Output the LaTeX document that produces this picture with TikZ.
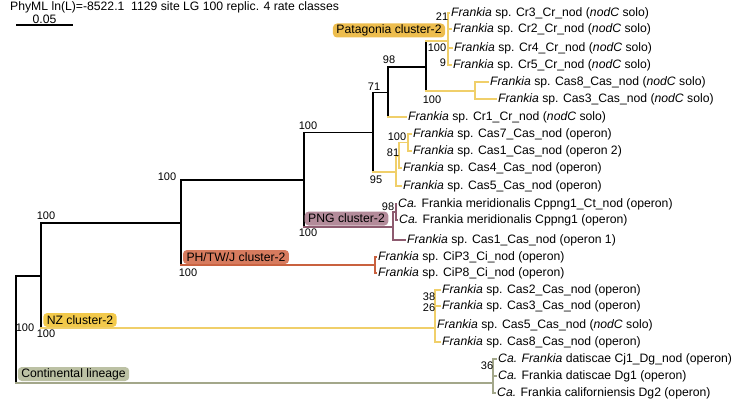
\documentclass[tikz,border=0pt]{standalone}
\usepackage{fontspec}
\setmainfont{Liberation Sans}
\usetikzlibrary{positioning}

\definecolor{patline}{HTML}{F0CF6A}
\definecolor{patbox}{HTML}{EDBD4E}
\definecolor{nzbox}{HTML}{F2C94B}
\definecolor{pngline}{HTML}{8E5B70}
\definecolor{pngbox}{HTML}{B38B9A}
\definecolor{phline}{HTML}{C9613F}
\definecolor{phbox}{HTML}{D77B5E}
\definecolor{conline}{HTML}{A3A78A}
\definecolor{conbox}{HTML}{BCC1A4}

\begin{document}
\begin{tikzpicture}[
    x=1pt, y=-1pt,
    every node/.style = {inner sep=0pt, font=\fontsize{12.2}{14}\selectfont},
    taxon/.style = {anchor=west, inner xsep=2pt},
    supp/.style = {font=\fontsize{11}{12}\selectfont},
    clade/.style = {rounded corners=4pt, inner xsep=3.5pt, minimum height=14pt},
    tree/.style = {line width=1.8pt, line cap=rect},
    pat/.style = {tree, draw=patline},
    png/.style = {tree, draw=pngline},
    ph/.style = {tree, draw=phline},
    con/.style = {tree, draw=conline}
                    ]
\useasboundingbox (0,0) rectangle (735,404);

% header and scale bar
\node (title) [anchor=west] at (10,7) {PhyML ln(L)=-8522.1\ \ 1129 site LG 100 replic. 4 rate classes};
\coordinate (sbA) at (16,25);
\coordinate (sbB) at (73,25);
\coordinate (sbM) at (44.5,25);
\draw[line width=2.5pt] (sbA) -- (sbB);
\node (sbtext) [above=1pt of sbM] {0.05};

% internal nodes
\coordinate (root) at (16,329.5);
\coordinate (nA) at (41,276);
\coordinate (nB) at (181,223);
\coordinate (nD) at (304,180);
\coordinate (nE) at (373,132.5);
\coordinate (nF) at (388,92.5);
\coordinate (nH) at (426,67);
\coordinate (nCr) at (448,41);
\coordinate (nCas) at (475,91);
\coordinate (nG) at (396,172);
\coordinate (n81) at (399,156);
\coordinate (n100) at (408,142.5);
\coordinate (nPNG) at (393,227);
\coordinate (n98) at (396,212);
\coordinate (nPH) at (375,265);
\coordinate (nNZ) at (435,328);
\coordinate (nCon) at (493,383);

% taxa
\node (cr3) [taxon] at (449,13) {\textit{Frankia} sp. Cr3\_Cr\_nod (\textit{nodC} solo)};
\node (cr2) [taxon] at (451,29) {\textit{Frankia} sp. Cr2\_Cr\_nod (\textit{nodC} solo)};
\node (cr4) [taxon] at (452,48) {\textit{Frankia} sp. Cr4\_Cr\_nod (\textit{nodC} solo)};
\node (cr5) [taxon] at (451,65) {\textit{Frankia} sp. Cr5\_Cr\_nod (\textit{nodC} solo)};
\node (cas8s) [taxon] at (488,82) {\textit{Frankia} sp. Cas8\_Cas\_nod (\textit{nodC} solo)};
\node (cas3s) [taxon] at (496,99) {\textit{Frankia} sp. Cas3\_Cas\_nod (\textit{nodC} solo)};
\node (cr1) [taxon] at (406,117) {\textit{Frankia} sp. Cr1\_Cr\_nod (\textit{nodC} solo)};
\node (cas7) [taxon] at (411,134) {\textit{Frankia} sp. Cas7\_Cas\_nod (operon)};
\node (cas1b) [taxon] at (411,151) {\textit{Frankia} sp. Cas1\_Cas\_nod (operon 2)};
\node (cas4) [taxon] at (401,168) {\textit{Frankia} sp. Cas4\_Cas\_nod (operon)};
\node (cas5) [taxon] at (401,186) {\textit{Frankia} sp. Cas5\_Cas\_nod (operon)};
\node (cpA) [taxon] at (396,204) {\textit{Ca.} Frankia meridionalis Cppng1\_Ct\_nod (operon)};
\node (cpB) [taxon] at (397,220) {\textit{Ca.} Frankia meridionalis Cppng1 (operon)};
\node (cas1a) [taxon] at (405,240) {\textit{Frankia} sp. Cas1\_Cas\_nod (operon 1)};
\node (cip3) [taxon] at (376,257) {\textit{Frankia} sp. CiP3\_Ci\_nod (operon)};
\node (cip8) [taxon] at (376,273) {\textit{Frankia} sp. CiP8\_Ci\_nod (operon)};
\node (nzcas2) [taxon] at (440,290) {\textit{Frankia} sp. Cas2\_Cas\_nod (operon)};
\node (nzcas3) [taxon] at (440,306) {\textit{Frankia} sp. Cas3\_Cas\_nod (operon)};
\node (nzcas5) [taxon] at (435,325) {\textit{Frankia} sp. Cas5\_Cas\_nod (\textit{nodC} solo)};
\node (nzcas8) [taxon] at (440,342) {\textit{Frankia} sp. Cas8\_Cas\_nod (operon)};
\node (cj1) [taxon] at (496,359) {\textit{Ca. Frankia} datiscae Cj1\_Dg\_nod (operon)};
\node (dg1) [taxon] at (496,376) {\textit{Ca.} Frankia datiscae Dg1 (operon)};
\node (dg2) [taxon] at (495,393) {\textit{Ca.} Frankia californiensis Dg2 (operon)};

% backbone
\draw[tree] (root |- nA) -- (root |- nCon);
\draw[tree] (root |- nA) -- (nA);
\draw[con] (root |- nCon) -- (nCon);
\draw[tree] (nA |- nB) -- (nA |- nNZ);
\draw[tree] (nA |- nB) -- (nB);
\draw[pat] (nA |- nNZ) -- (nNZ);
\draw[tree] (nB |- nD) -- (nB |- nPH);
\draw[tree] (nB |- nD) -- (nD);
\draw[ph] (nB |- nPH) -- (nPH);
\draw[tree] (nD |- nE) -- (nD |- nPNG);
\draw[tree] (nD |- nE) -- (nE);
\draw[png] (nD |- nPNG) -- (nPNG);
\draw[tree] (nE |- nF) -- (nE |- nG);
\draw[tree] (nE |- nF) -- (nF);
\draw[pat] (nE |- nG) -- (nG);
\draw[tree] (nF |- nH) -- (nF |- cr1);
\draw[tree] (nF |- nH) -- (nH);
\draw[pat] (nF |- cr1) -- (cr1.west);
\draw[tree] (nH |- nCr) -- (nH |- nCas);
\draw[pat] (nH |- nCr) -- (nCr);
\draw[pat] (nH |- nCas) -- (nCas);

% coloured clades
\draw[pat] (nCr |- cr3) -- (nCr |- cr5);
\foreach \lf in {cr3,cr2,cr4,cr5} \draw[pat] (nCr |- \lf) -- (\lf.west);
\draw[pat] (nCas |- cas8s) -- (nCas |- cas3s);
\foreach \lf in {cas8s,cas3s} \draw[pat] (nCas |- \lf) -- (\lf.west);
\draw[pat] (nG |- n81) -- (nG |- cas5);
\draw[pat] (nG |- n81) -- (n81);
\draw[pat] (nG |- cas5) -- (cas5.west);
\draw[pat] (n81 |- n100) -- (n81 |- cas4);
\draw[pat] (n81 |- n100) -- (n100);
\draw[pat] (n81 |- cas4) -- (cas4.west);
\draw[pat] (n100 |- cas7) -- (n100 |- cas1b);
\foreach \lf in {cas7,cas1b} \draw[pat] (n100 |- \lf) -- (\lf.west);
\draw[png] (nPNG |- n98) -- (nPNG |- cas1a);
\draw[png] (nPNG |- n98) -- (n98);
\draw[png] (nPNG |- cas1a) -- (cas1a.west);
\draw[png] (n98 |- cpA) -- (n98 |- cpB);
\foreach \lf in {cpA,cpB} \draw[png] (n98 |- \lf) -- (\lf.west);
\draw[ph] (nPH |- cip3) -- (nPH |- cip8);
\foreach \lf in {cip3,cip8} \draw[ph] (nPH |- \lf) -- (\lf.west);
\draw[pat] (nNZ |- nzcas2) -- (nNZ |- nzcas8);
\foreach \lf in {nzcas2,nzcas3,nzcas5,nzcas8} \draw[pat] (nNZ |- \lf) -- (\lf.west);
\draw[con] (nCon |- cj1) -- (nCon |- dg2);
\foreach \lf in {cj1,dg1,dg2} \draw[con] (nCon |- \lf) -- (\lf.west);

% clade labels
\node (patlab) [clade, fill=patbox] at (389,30.5) {Patagonia cluster-2};
\node (pnglab) [clade, fill=pngbox] at (346.5,218.5) {PNG cluster-2};
\node (phlab) [clade, fill=phbox] at (236,257) {PH/TW/J cluster-2};
\node (nzlab) [clade, fill=nzbox] at (80,320) {NZ cluster-2};
\node (conlab) [clade, fill=conbox] at (73.5,374) {Continental lineage};

% bootstrap values
\node (bsA) [supp] at (46,216) {100};
\node (bsB) [supp] at (25,328) {100};
\node (bsC) [supp] at (46,333.5) {100};
\node (bsD) [supp] at (167,177) {100};
\node (bsE) [supp] at (188,273) {100};
\node (bsF) [supp] at (308,126) {100};
\node (bsG) [supp] at (308,233) {100};
\node (bsH) [supp] at (374,87) {71};
\node (bsI) [supp] at (376,180) {95};
\node (bsJ) [supp] at (389,60) {98};
\node (bsK) [supp] at (432,100) {100};
\node (bsL) [supp] at (437,47.5) {100};
\node (bsM) [supp] at (442,17) {21};
\node (bsN) [supp] at (443,63) {9};
\node (bsO) [supp] at (397,137) {100};
\node (bsP) [supp] at (393,152.5) {81};
\node (bsQ) [supp] at (388,206.5) {98};
\node (bsR) [supp] at (429,297) {38};
\node (bsS) [supp] at (429,308) {26};
\node (bsT) [supp] at (487,366) {36};

\end{tikzpicture}
\end{document}
